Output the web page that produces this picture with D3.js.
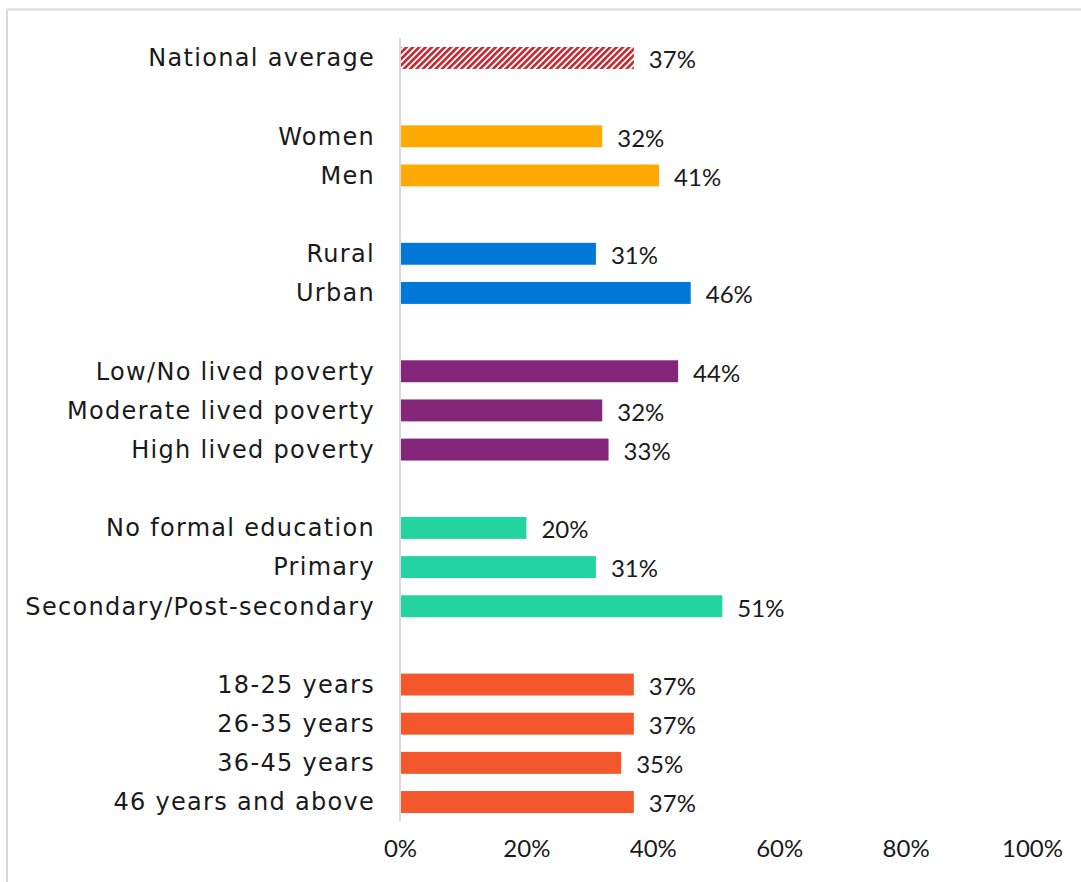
<!DOCTYPE html>
<html>
<head>
<meta charset="utf-8">
<script src="https://cdn.jsdelivr.net/npm/d3@7"></script>
<style>
  html, body { margin: 0; padding: 0; background: #fff; }
  svg text { font-family: "Lato", "Noto Sans", sans-serif; fill: #1a1a1a; }
  svg text.cat { font-family: "DejaVu Sans", sans-serif; letter-spacing: 1.3px; }
</style>
</head>
<body>
<svg id="chart" width="1081" height="882"></svg>
<script>
// Share of respondents, by group (percent)
const categories = [
  "National average",
  "", "Women", "Men",
  "", "Rural", "Urban",
  "", "Low/No lived poverty", "Moderate lived poverty", "High lived poverty",
  "", "No formal education", "Primary", "Secondary/Post-secondary",
  "", "18-25 years", "26-35 years", "36-45 years", "46 years and above"
];
const values = [
  37,
  null, 32, 41,
  null, 31, 46,
  null, 44, 32, 33,
  null, 20, 31, 51,
  null, 37, 37, 35, 37
];
const groups = [
  "national",
  null, "gender", "gender",
  null, "location", "location",
  null, "poverty", "poverty", "poverty",
  null, "education", "education", "education",
  null, "age", "age", "age", "age"
];
const xTicks = [0, 20, 40, 60, 80, 100];

const groupColors = {
  national: "url(#hatch)",
  gender: "#FFAA00",
  location: "#0078D7",
  poverty: "#84267A",
  education: "#23D3A0",
  age: "#F4572B"
};

const svg = d3.select("#chart");

// hatched fill for the national average bar
const defs = svg.append("defs");
const pat = defs.append("pattern")
  .attr("id", "hatch")
  .attr("patternUnits", "userSpaceOnUse")
  .attr("width", 4.5).attr("height", 4.5)
  .attr("patternTransform", "rotate(45)");
pat.append("rect").attr("width", 4.5).attr("height", 4.5).attr("fill", "#fff");
pat.append("rect").attr("width", 2.6).attr("height", 4.5).attr("fill", "#C4262E");

// outer frame
svg.append("rect")
  .attr("x", 7).attr("y", 9.5)
  .attr("width", 1100).attr("height", 900)
  .attr("fill", "none").attr("stroke", "#d9d9d9").attr("stroke-width", 2);

const x = d3.scaleLinear().domain([0, 100]).range([400, 1032]);
const idx = d3.range(categories.length);
const y = d3.scaleBand().domain(idx).range([38.4, 821.6]).paddingInner(0.44).paddingOuter(0.22);

const rows = idx.filter(i => values[i] !== null);

// bars
svg.append("g").selectAll("rect")
  .data(rows)
  .join("rect")
  .attr("x", x(0))
  .attr("y", i => y(i))
  .attr("width", i => x(values[i]) - x(0))
  .attr("height", y.bandwidth())
  .attr("fill", i => groupColors[groups[i]]);

// vertical axis line
svg.append("line")
  .attr("x1", x(0)).attr("x2", x(0))
  .attr("y1", 38).attr("y2", 821)
  .attr("stroke", "#d9d9d9").attr("stroke-width", 2);

// category labels
svg.append("g").selectAll("text")
  .data(rows)
  .join("text")
  .attr("class", "cat")
  .attr("x", 375)
  .attr("y", i => y(i) + y.bandwidth() / 2)
  .attr("dy", "0.35em")
  .attr("text-anchor", "end")
  .attr("font-size", 24)
  .text(i => categories[i]);

// value labels
svg.append("g").selectAll("text")
  .data(rows)
  .join("text")
  .attr("x", i => x(values[i]) + 15)
  .attr("y", i => y(i) + y.bandwidth() / 2 + 2)
  .attr("dy", "0.35em")
  .attr("font-size", 24)
  .text(i => values[i] + "%");

// x axis tick labels
const xAxis = d3.axisBottom(x)
  .tickValues(xTicks)
  .tickFormat(d => d + "%")
  .tickSize(0)
  .tickPadding(0);
const gx = svg.append("g").attr("transform", "translate(0,849)").call(xAxis);
gx.select(".domain").remove();
gx.selectAll("text").attr("font-size", 24).attr("dy", "0.35em").attr("fill", "#1a1a1a")
  .style("font-family", "Lato, 'Noto Sans', sans-serif");
</script>
</body>
</html>
